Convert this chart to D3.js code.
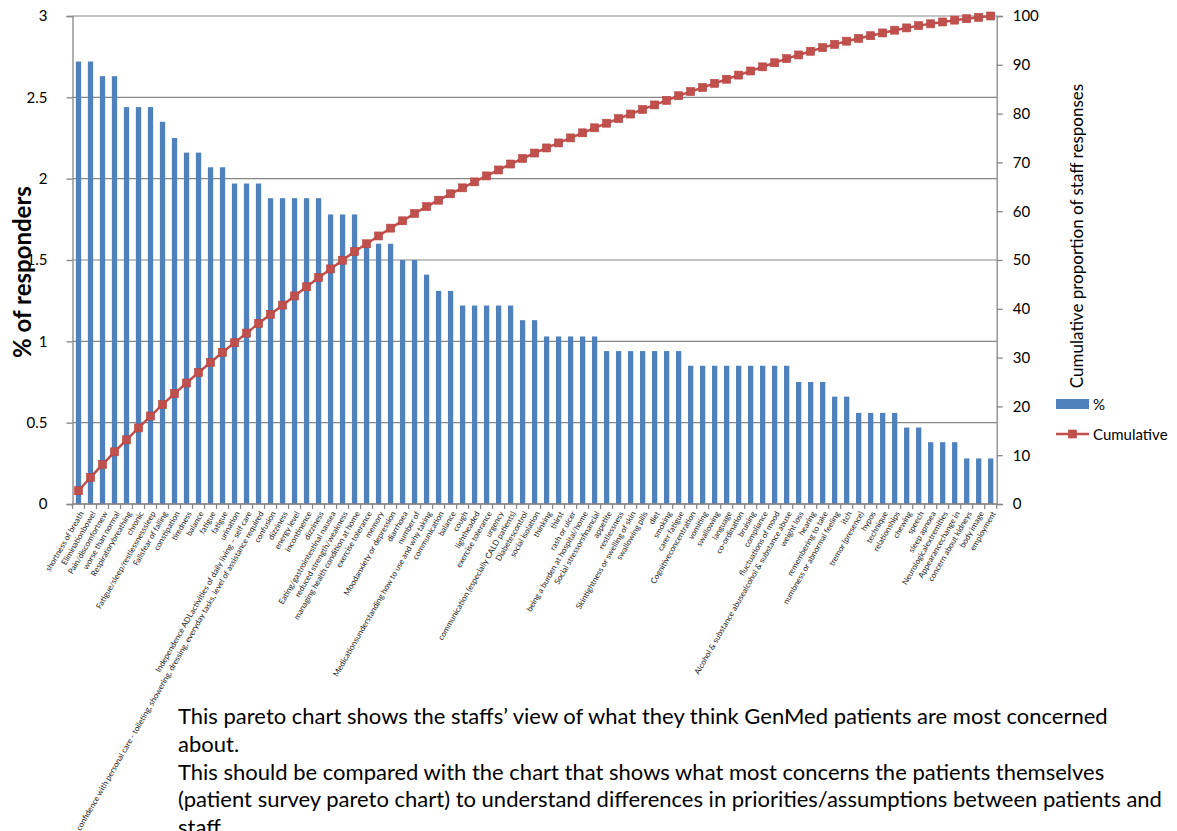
<!DOCTYPE html>
<html>
<head>
<meta charset="utf-8">
<script src="https://cdn.jsdelivr.net/npm/d3@7"></script>
<style>
  html, body { margin: 0; padding: 0; background: #ffffff; }
  svg { display: block; }
  text { font-family: Lato, "Open Sans", sans-serif; }
</style>
</head>
<body>
<svg id="chart" width="1177" height="831"></svg>
<script>
// Concerns staff believe GenMed patients have, ordered by share of responses
const categories = [
  "shortness of breath", "Eliminationbowel", "Pain/discomfortnew", "worse than normal",
  "Respiratorybreathing", "chronic", "Fatigue/sleep/restlessnesssleep", "Fallsfear of falling",
  "constipation", "tiredness", "balance", "fatigue", "fatigue", "urination",
  "Independence ADLactivities of daily living – self care",
  "confidence with personal care - toileting, showering, dressing, everyday tasks, level of assistance required",
  "confusion", "dizziness", "energy level", "incontinence", "dizziness",
  "Eating/gastrointestinal nausea", "reduced strength/weakness", "managing health condition at home",
  "exercise tolerance", "memory", "Moodanxiety or depression", "diarrhoea", "number of",
  "Medicationsunderstanding how to use and why taking", "communication", "balance", "cough",
  "lightheaded", "exercise tolerance", "urgency", "communication (especially CALD patients)",
  "Diabetescontrol", "social isolation", "thinking", "thirst", "rash or ulcer",
  "being a burden at hospital/home", "Social stressorsfinancial", "appetite", "restlessness",
  "Skintightness or swelling of skin", "swallowing pills", "diet", "smoking", "carer fatigue",
  "Cognitiveconcentration", "vomiting", "swallowing", "language", "co-ordination", "bruising",
  "compliance", "fluctuations of mood", "Alcohol & substance abusealcohol & substance abuse",
  "weight loss", "hearing", "remembering to take", "numbness or abnormal feeling", "itch",
  "tremor (presence)", "hypos", "technique", "relationships", "chewing", "speech",
  "sleep apnoea", "Neurologicalextremities", "Appearancechange in", "concern about kidneys",
  "body image", "employment"
];

// % of responders for each concern
const percentValues = [
  2.72, 2.72, 2.63, 2.63, 2.44, 2.44, 2.44, 2.35, 2.25, 2.16,
  2.16, 2.07, 2.07, 1.97, 1.97, 1.97, 1.88, 1.88, 1.88, 1.88,
  1.88, 1.78, 1.78, 1.78, 1.60, 1.60, 1.60, 1.50, 1.50, 1.41,
  1.31, 1.31, 1.22, 1.22, 1.22, 1.22, 1.22, 1.13, 1.13, 1.03,
  1.03, 1.03, 1.03, 1.03, 0.94, 0.94, 0.94, 0.94, 0.94, 0.94,
  0.94, 0.85, 0.85, 0.85, 0.85, 0.85, 0.85, 0.85, 0.85, 0.85,
  0.75, 0.75, 0.75, 0.66, 0.66, 0.56, 0.56, 0.56, 0.56, 0.47,
  0.47, 0.38, 0.38, 0.38, 0.28, 0.28, 0.28
];

// Cumulative proportion of staff responses (%)
const cumulativeValues = [
  2.72, 5.45, 8.08, 10.70, 13.15, 15.59, 18.03, 20.38, 22.63, 24.79,
  26.95, 29.01, 31.08, 33.05, 35.02, 37.00, 38.87, 40.75, 42.63, 44.51,
  46.38, 48.17, 49.95, 51.74, 53.33, 54.93, 56.53, 58.03, 59.53, 60.94,
  62.25, 63.57, 64.79, 66.01, 67.23, 68.45, 69.67, 70.80, 71.92, 72.96,
  73.99, 75.02, 76.06, 77.09, 78.03, 78.97, 79.91, 80.85, 81.78, 82.72,
  83.66, 84.51, 85.35, 86.20, 87.04, 87.89, 88.73, 89.58, 90.42, 91.27,
  92.02, 92.77, 93.52, 94.18, 94.84, 95.40, 95.96, 96.53, 97.09, 97.56,
  98.03, 98.40, 98.78, 99.15, 99.44, 99.72, 100.00
];

const leftTicks = [0, 0.5, 1, 1.5, 2, 2.5, 3];
const rightTicks = [0, 10, 20, 30, 40, 50, 60, 70, 80, 90, 100];

const noteLines = [
  "This pareto chart shows the staffs\u2019 view of what they think GenMed patients are most concerned",
  "about.",
  "This should be compared with the chart that shows what most concerns the patients themselves",
  "(patient survey pareto chart) to understand differences in priorities/assumptions between patients and",
  "staff."
];

// Layout
const plot = { left: 72.5, right: 996.7, top: 16, bottom: 504 };
const axisColor = "#868686";
const barColor = "#4F81BD";
const lineColor = "#C0504D";

const svg = d3.select("#chart");

const x = d3.scaleBand()
  .domain(categories.map((_, i) => i))
  .range([plot.left, plot.right])
  .paddingInner(0.56)
  .paddingOuter(0.28);

const yLeft = d3.scaleLinear().domain([0, 3]).range([plot.bottom, plot.top]);
const yRight = d3.scaleLinear().domain([0, 100]).range([plot.bottom, plot.top]);

// Horizontal gridlines at the left-axis ticks
svg.append("g")
  .selectAll("line")
  .data(leftTicks)
  .join("line")
  .attr("x1", plot.left).attr("x2", plot.right)
  .attr("y1", d => yLeft(d)).attr("y2", d => yLeft(d))
  .attr("stroke", axisColor).attr("stroke-width", 1.2);

// Bars
svg.append("g")
  .selectAll("rect")
  .data(percentValues)
  .join("rect")
  .attr("x", (d, i) => x(i))
  .attr("width", x.bandwidth())
  .attr("y", d => yLeft(d))
  .attr("height", d => yLeft(0) - yLeft(d))
  .attr("fill", barColor);

// Left axis
const gLeft = svg.append("g")
  .attr("transform", `translate(${plot.left},0)`)
  .call(d3.axisLeft(yLeft).tickValues(leftTicks).tickSize(6).tickPadding(19)
    .tickFormat(d3.format("~g")));
gLeft.select(".domain").attr("stroke", axisColor).attr("stroke-width", 1.3);
gLeft.selectAll(".tick line").attr("stroke", axisColor).attr("stroke-width", 1.3);
gLeft.selectAll(".tick text")
  .attr("font-family", "Lato, sans-serif").attr("font-size", 15).attr("fill", "#000");

// Right axis
const gRight = svg.append("g")
  .attr("transform", `translate(${plot.right},0)`)
  .call(d3.axisRight(yRight).tickValues(rightTicks).tickSize(6).tickPadding(10));
gRight.select(".domain").attr("stroke", axisColor).attr("stroke-width", 1.3);
gRight.selectAll(".tick line").attr("stroke", axisColor).attr("stroke-width", 1.3);
gRight.selectAll(".tick text")
  .attr("font-family", "Lato, sans-serif").attr("font-size", 15).attr("fill", "#000");

// Category axis: baseline plus tick marks on the band boundaries
const gapHalf = (x.step() - x.bandwidth()) / 2;
const boundaries = categories.map((_, i) => x(i) - gapHalf).concat([x(categories.length - 1) + x.bandwidth() + gapHalf]);
const gBottom = svg.append("g");
gBottom.append("line")
  .attr("x1", plot.left).attr("x2", plot.right)
  .attr("y1", plot.bottom).attr("y2", plot.bottom)
  .attr("stroke", axisColor).attr("stroke-width", 1.3);
gBottom.selectAll("line.tick")
  .data(boundaries)
  .join("line")
  .attr("class", "tick")
  .attr("x1", d => d).attr("x2", d => d)
  .attr("y1", plot.bottom).attr("y2", plot.bottom + 5)
  .attr("stroke", axisColor).attr("stroke-width", 1.2);

gBottom.selectAll("text")
  .data(categories)
  .join("text")
  .attr("transform", (d, i) => `translate(${x(i) + x.bandwidth() / 2 + 3},${plot.bottom + 8}) rotate(-60)`)
  .attr("text-anchor", "end")
  .attr("dy", "0.35em")
  .attr("font-size", 8)
  .attr("fill", "#1a1a1a")
  .text(d => d);

// Cumulative line with square markers
const line = d3.line()
  .x((d, i) => x(i) + x.bandwidth() / 2)
  .y(d => yRight(d));

svg.append("path")
  .datum(cumulativeValues)
  .attr("d", line)
  .attr("fill", "none")
  .attr("stroke", lineColor)
  .attr("stroke-width", 2.5);

const markerSize = 8;
svg.append("g")
  .selectAll("rect")
  .data(cumulativeValues)
  .join("rect")
  .attr("x", (d, i) => x(i) + x.bandwidth() / 2 - markerSize / 2)
  .attr("y", d => yRight(d) - markerSize / 2)
  .attr("width", markerSize).attr("height", markerSize)
  .attr("fill", lineColor)
  .attr("stroke", "#B8433F").attr("stroke-width", 0.6);

// Axis titles
svg.append("text")
  .attr("transform", "translate(21,272) rotate(-90)")
  .attr("text-anchor", "middle")
  .attr("dominant-baseline", "central")
  .attr("font-size", 24).attr("font-weight", "bold").attr("fill", "#000")
  .text("% of responders");

svg.append("text")
  .attr("transform", "translate(1076,236) rotate(-90)")
  .attr("text-anchor", "middle")
  .attr("dominant-baseline", "central")
  .attr("font-size", 17).attr("fill", "#000")
  .text("Cumulative proportion of staff responses");

// Legend
const legend = svg.append("g");
legend.append("rect")
  .attr("x", 1056).attr("y", 399).attr("width", 33).attr("height", 10)
  .attr("fill", barColor);
legend.append("text")
  .attr("x", 1093).attr("y", 404).attr("dominant-baseline", "central")
  .attr("font-size", 15).attr("fill", "#000").text("%");
legend.append("line")
  .attr("x1", 1056).attr("x2", 1089).attr("y1", 434).attr("y2", 434)
  .attr("stroke", lineColor).attr("stroke-width", 2.5);
legend.append("rect")
  .attr("x", 1072.5 - markerSize / 2).attr("y", 434 - markerSize / 2)
  .attr("width", markerSize).attr("height", markerSize)
  .attr("fill", lineColor).attr("stroke", "#B8433F").attr("stroke-width", 0.6);
legend.append("text")
  .attr("x", 1093).attr("y", 434).attr("dominant-baseline", "central")
  .attr("font-size", 15).attr("fill", "#000").text("Cumulative");

// Explanatory note below the chart
svg.append("g")
  .selectAll("text")
  .data(noteLines)
  .join("text")
  .attr("x", 178)
  .attr("y", (d, i) => 724 + i * 27.8)
  .attr("font-size", 22)
  .attr("fill", "#000")
  .text(d => d);
</script>
</body>
</html>
